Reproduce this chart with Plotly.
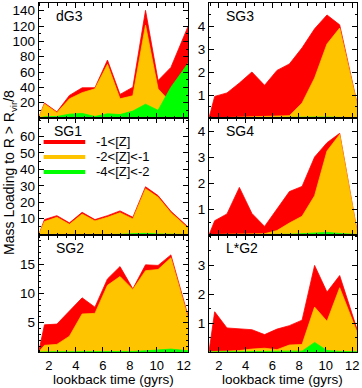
import plotly.graph_objects as go
from plotly.subplots import make_subplots

# lookback time (gyrs) of each sample
TIME = [1.25, 1.68, 2.6, 3.53, 4.47, 5.42, 6.35, 7.28, 8.23, 9.17, 10.1, 11.05, 12.35]

# mass loading per metallicity bin, one dict per galaxy
DG3 = dict(
    red=[0, 19.6, 8.0, 29.5, 39.4, 39.5, 75.5, 30.8, 40.2, 140.4, 48.8, 66, 120.6],
    orange=[0, 18.3, 7, 25, 33, 38, 70, 25, 29, 121, 38, 20, 50],
    green=[0, 1.5, 2, 5, 6, 2, 5.5, 4.5, 9, 18, 10, 40, 72],
)
SG3 = dict(
    red=[0, 0.94, 1.09, 1.52, 2.0, 1.42, 2.07, 2.35, 3.05, 3.88, 4.48, 4.05, 0.65],
    orange=[0, 0.02, 0.02, 0.03, 0.05, 0.05, 0.07, 0.1, 0.65, 1.74, 3.22, 3.91, 0.62],
    green=[0, 0.01, 0.01, 0.01, 0.02, 0.02, 0.02, 0.03, 0.03, 0.04, 0.04, 0.03, 0.01],
)
SG1 = dict(
    red=[0, 9.4, 11.8, 7.4, 13.8, 9.4, 11.8, 14.7, 10.8, 29.4, 24, 14.5, 4.7],
    orange=[0, 8.2, 10.8, 6.5, 12.8, 8.6, 10.8, 13.6, 9.8, 28.2, 23.0, 13.6, 4.0],
    green=[0, 0.1, 0.1, 0.1, 0.1, 0.1, 0.2, 0.4, 0.8, 1.0, 0.6, 0.5, 0.3],
)
SG4 = dict(
    red=[0, 0.55, 0.81, 1.83, 0.83, 0.33, 1.0, 1.67, 1.87, 3.0, 3.55, 3.91, 0.17],
    orange=[0, 0.02, 0.03, 0.04, 0.04, 0.05, 0.17, 0.46, 0.72, 1.51, 3.23, 3.87, 0.15],
    green=[0, 0.01, 0.01, 0.01, 0.01, 0.01, 0.02, 0.03, 0.05, 0.08, 0.1, 0.06, 0.02],
)
SG2 = dict(
    red=[0, 4.65, 4.77, 7.0, 9.26, 7.67, 12.5, 14.6, 10.8, 14.9, 14.8, 16.6, 5.96],
    orange=[0, 1.14, 1.3, 2.7, 6.5, 6.6, 11.4, 12.9, 10.7, 13.9, 14.1, 16.1, 5.6],
    green=[0, 0.05, 0.05, 0.05, 0.05, 0.05, 0.1, 0.1, 0.1, 0.2, 0.3, 0.5, 0.2],
)
LG2 = dict(
    red=[0, 1.39, 0.83, 0.79, 0.77, 0.6, 0.79, 0.91, 1.1, 2.99, 2.07, 2.64, 0.79],
    orange=[0, 0.02, 0.03, 0.05, 0.1, 0.13, 0.08, 0.24, 0.26, 1.55, 1.06, 2.22, 0.69],
    green=[0, 0.01, 0.01, 0.01, 0.02, 0.02, 0.02, 0.03, 0.03, 0.33, 0.05, 0.02, 0.01],
)

BIN_NAMES = {"red": "-1<[Z]", "orange": "-2<[Z]<-1", "green": "-4<[Z]<-2"}
COLORS = {"red": "#ff0000", "orange": "#ffc400", "green": "#00ff00"}

# (name, data, row, col, y range, y ticks, y minor step)
PANELS = [
    ("dG3", DG3, 1, 1, 150, [20, 40, 60, 80, 100, 120, 140], 10),
    ("SG3", SG3, 1, 2, 5, [1, 2, 3, 4], 0.5),
    ("SG1", SG1, 2, 1, 71.3, [10, 20, 30, 40, 50, 60], 5),
    ("SG4", SG4, 2, 2, 4.5, [1, 2, 3, 4], 0.5),
    ("SG2", SG2, 3, 1, 20, [5, 10, 15], 1),
    ("L*G2", LG2, 3, 2, 4.04, [1, 2, 3], 0.5),
]

W, H = 362, 388
COL_X = {1: (39, 190), 2: (210.7, 360)}
ROW_Y = {1: (3, 118), 2: (118, 235), 3: (235, 352)}
FONT = "Liberation Sans, Arial, sans-serif"

fig = make_subplots(rows=3, cols=2)


def dom(axis):
    return axis.plotly_name.replace("axis", "") + " domain"


for name, data, row, col, ymax, yticks, yminor in PANELS:
    for key in ["red", "orange", "green"]:
        fig.add_trace(
            go.Scatter(
                x=TIME, y=data[key], mode="lines", fill="tozeroy",
                line=dict(color=COLORS[key], width=0.8),
                fillcolor=COLORS[key], showlegend=False, hoverinfo="skip",
            ),
            row=row, col=col,
        )
    x0, x1 = COL_X[col]
    y0, y1 = ROW_Y[row]
    fig.update_xaxes(
        domain=[x0 / W, x1 / W], range=[1.25, 12.35],
        tickvals=[2, 4, 6, 8, 10, 12], showticklabels=(row == 3),
        minor=dict(dtick=2 / 3, tick0=0, ticks="inside", ticklen=2.5, tickcolor="black"),
        row=row, col=col,
    )
    fig.update_yaxes(
        domain=[1 - y1 / H, 1 - y0 / H], range=[0, ymax], tickvals=yticks,
        minor=dict(dtick=yminor, tick0=0, ticks="inside", ticklen=2.5, tickcolor="black"),
        row=row, col=col,
    )
    sp = fig.get_subplot(row, col)
    if name != "SG1":
        fig.add_annotation(
            text=name, x=0.1, y=0.888, xref=dom(sp.xaxis), yref=dom(sp.yaxis),
            xanchor="left", yanchor="middle", showarrow=False,
            font=dict(size=14, color="black"),
        )
    else:
        # legend block drawn inside the SG1 panel
        fig.add_annotation(
            text=name, x=0.195, y=0.89, xref=dom(sp.xaxis), yref=dom(sp.yaxis),
            xanchor="center", yanchor="middle", showarrow=False,
            font=dict(size=14, color="black"),
        )
        for i, key in enumerate(["red", "orange", "green"]):
            ly = 0.795 - i * 0.128
            fig.add_shape(
                type="line", x0=0.033, x1=0.311, y0=ly, y1=ly,
                xref=dom(sp.xaxis), yref=dom(sp.yaxis),
                line=dict(color=COLORS[key], width=4),
            )
            fig.add_annotation(
                text=BIN_NAMES[key], x=0.37, y=ly, xref=dom(sp.xaxis), yref=dom(sp.yaxis),
                xanchor="left", yanchor="middle", showarrow=False,
                font=dict(size=13, color="black"),
            )

fig.update_xaxes(
    showline=True, linecolor="black", linewidth=1, mirror="allticks",
    ticks="inside", ticklen=5, tickcolor="black", showgrid=False, zeroline=False,
    tickfont=dict(size=13, color="black"), ticklabeloverflow="allow",
    ticklabelstandoff=1,
)
fig.update_yaxes(
    showline=True, linecolor="black", linewidth=1, mirror="allticks",
    ticks="inside", ticklen=5, tickcolor="black", showgrid=False, zeroline=False,
    tickfont=dict(size=13.5, color="black"), ticklabeloverflow="allow",
)

for col in (1, 2):
    x0, x1 = COL_X[col]
    fig.add_annotation(
        text="lookback time (gyrs)", x=(x0 + x1) / 2 / W, y=1 - 379 / H,
        xref="paper", yref="paper", showarrow=False,
        xanchor="center", yanchor="middle",
        font=dict(size=13.5, color="black"),
    )

fig.add_annotation(
    text="Mass Loading to R > R<sub>vir</sub>/8", x=10 / W, y=1 - 172 / H,
    xref="paper", yref="paper", showarrow=False, textangle=-90,
    xanchor="center", yanchor="middle", font=dict(size=14, color="black"),
)

fig.update_layout(
    width=W, height=H,
    margin=dict(l=0, r=0, t=0, b=0),
    paper_bgcolor="white", plot_bgcolor="white",
    font=dict(family=FONT, color="black"),
    showlegend=False,
)

fig.write_html(
    "out.html",
    config={"displayModeBar": False},
    post_script="document.body.style.margin='0';",
)
